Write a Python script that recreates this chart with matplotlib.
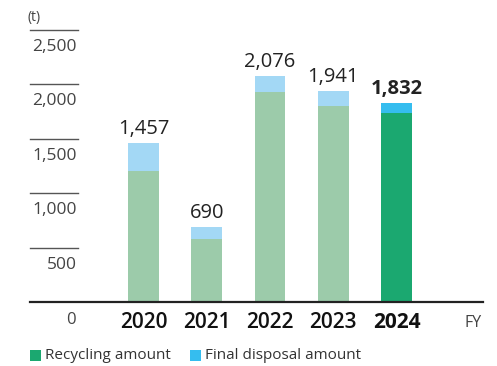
import matplotlib
matplotlib.use("Agg")
import matplotlib.pyplot as plt
import matplotlib.transforms as mtransforms

plt.rcParams['font.family'] = ['Open Sans', 'DejaVu Sans']

years = ["2020", "2021", "2022", "2023", "2024"]
recycling = [1202, 578, 1926, 1798, 1734]
final_disposal = [255, 112, 150, 143, 98]
totals = [1457, 690, 2076, 1941, 1832]
yticks = [500, 1000, 1500, 2000, 2500]
ytick_labels = ["500", "1,000", "1,500", "2,000", "2,500"]

W, H = 497, 366
fig = plt.figure(figsize=(W / 100, H / 100), dpi=100)
ax_left, ax_right = 30, 483
base_y, top2500 = 302, 30
ymax = 2500 * (base_y - 0) / (base_y - top2500)  # axis top at pixel 0
ax = fig.add_axes([ax_left / W, (H - base_y) / H, (ax_right - ax_left) / W, base_y / H])

spacing = 63.25
c0 = 143.5
ax.set_xlim((ax_left - c0) / spacing, (ax_right - c0) / spacing)
ax.set_ylim(0, ymax)
ax.axis('off')

xs = list(range(len(years)))
rec_colors = ["#9ccbaa"] * 4 + ["#1ba870"]
fd_colors = ["#a3d8f5"] * 4 + ["#35bdef"]
ax.bar(xs, recycling, width=0.49, color=rec_colors, linewidth=0)
ax.bar(xs, final_disposal, width=0.49, bottom=recycling, color=fd_colors, linewidth=0)

# baseline
ax.axhline(0, color="#222222", linewidth=1.6, clip_on=False)

blend = mtransforms.blended_transform_factory(ax.transAxes, ax.transData)
gl_right = (78 - ax_left) / (ax_right - ax_left)
lab_x = (77 - ax_left) / (ax_right - ax_left)
for v, lab in zip(yticks, ytick_labels):
    ax.plot([0, gl_right], [v, v], transform=blend, color="#555555", linewidth=1.0, clip_on=False)
    ax.annotate(lab, xy=(lab_x, v), xycoords=blend, xytext=(0, -6.5), textcoords='offset points',
                ha='right', va='top', fontsize=12.5, color="#444444")
ax.annotate("0", xy=(lab_x, 0), xycoords=blend, xytext=(-1, -7), textcoords='offset points',
            ha='right', va='top', fontsize=12, color="#444444")
ax.annotate("(t)", xy=(28 / W, 1 - 17 / H), xycoords='figure fraction', ha='left', va='center',
            fontsize=10, color="#444444")

# value labels
for i, (t, tot) in enumerate(zip(xs, totals)):
    ax.annotate(f"{tot:,}", xy=(t, tot), xytext=(0, 3), textcoords='offset points',
                ha='center', va='bottom', fontsize=14.5, color="#222222",
                fontweight='bold' if i == len(xs) - 1 else 'normal')

# year labels
for i, (t, y) in enumerate(zip(xs, years)):
    ax.annotate(y, xy=(t, 0), xytext=(0, -15), textcoords='offset points',
                ha='center', va='center', fontsize=15, color="#111111",
                fontweight='bold' if i == len(xs) - 1 else 'semibold')
ax.annotate("FY", xy=(482 / W, 1 - 323 / H), xycoords='figure fraction', ha='right', va='center',
            fontsize=11.5, color="#444444")

# legend
legend_items = [("Recycling amount", "#1ba870", 30), ("Final disposal amount", "#35bdef", 190)]
for text, col, px in legend_items:
    fig.patches.append(plt.Rectangle((px / W, 1 - 361 / H), 11 / W, 11 / H, transform=fig.transFigure,
                                     color=col, linewidth=0))
    fig.text((px + 15) / W, 1 - 355.5 / H, text, ha='left', va='center', fontsize=11, color="#333333")

fig.savefig("out.png", dpi=100)
